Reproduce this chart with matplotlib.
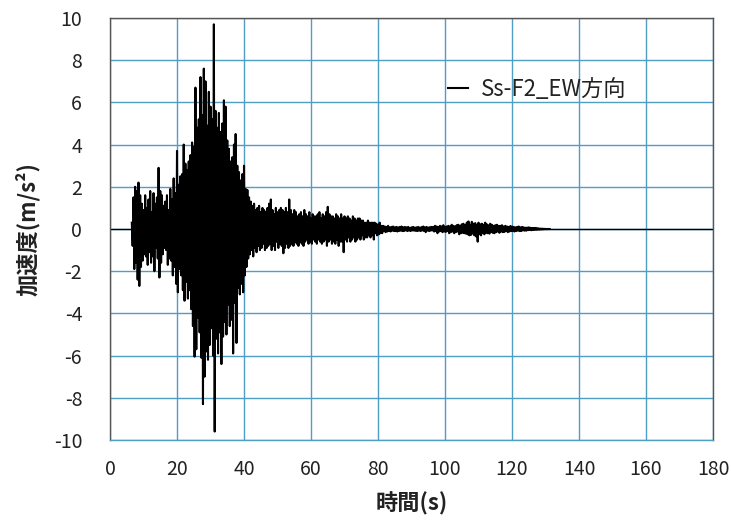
import numpy as np
import matplotlib
matplotlib.use("Agg")
import matplotlib.pyplot as plt

plt.rcParams['font.family'] = ['Noto Sans CJK JP', 'DejaVu Sans']
plt.rcParams['axes.unicode_minus'] = False

# acceleration record (m/s^2), one value every 0.25 s starting at t0
t0 = 6.5
dt = 0.25
acc = [
    0.3, -0.8, 1.5, -1.9, 2.0, -1.6, 1.8, -2.4, 2.2, -2.7, 1.6, -1.8, 1.2, -1.5, 0.9, -1.2, 1.6, -1.3, 1.0, -1.7,
    1.4, -1.1, 1.8, -1.6, 0.8, -1.3, 1.7, -2.0, 1.2, -0.9, 1.5, -1.4, 2.9, -2.3, 1.8, -1.6, 1.6, -1.2, 1.1, -0.9,
    1.3, -1.0, 1.6, -1.7, 0.9, -1.4, 1.9, -1.5, 1.4, -2.2, 2.4, -1.8, 1.7, -2.6, 3.7, -3.0, 2.1, -1.9, 2.5, -2.2,
    2.6, -2.9, 4.0, -3.4, 3.1, -2.5, 2.8, -3.3, 3.2, -2.9, 3.5, -3.8, 4.1, -4.6, 3.9, -6.05, 6.7, -5.7, 4.8, -4.2,
    5.2, -4.9, 7.2, -6.1, 5.4, -8.3, 7.6, -7.0, 7.0, -5.8, 4.9, -6.2, 6.5, -5.5, 5.8, -4.7, 5.2, -6.0, 9.7, -9.6,
    5.6, -5.2, 4.8, -5.9, 5.5, -4.9, 4.6, -6.4, 5.0, -5.1, 6.1, -4.4, 5.8, -5.0, 4.2, -3.6, 3.8, -4.6, 3.2, -4.3,
    3.4, -5.9, 4.0, -3.5, 4.5, -5.4, 3.0, -2.8, 2.7, -3.1, 2.3, -2.6, 2.6, -3.0, 3.0, -2.2, 1.9, -1.8, 1.85, -1.4,
    1.5, -1.2, 1.3, -1.0, 1.1, -1.3, 1.2, -0.9, 0.9, -1.1, 1.0, -0.8, 1.1, -1.0, 0.8, -0.9, 1.0, -0.7, 0.9, -1.0,
    0.8, -0.9, 1.0, -0.8, 1.2, -0.7, 1.4, -1.0, 0.9, -0.8, 0.7, -1.0, 1.0, -0.6, 0.8, -0.9, 0.9, -0.7, 1.0, -0.8,
    0.9, -1.15, 0.8, -0.9, 1.0, -0.7, 0.8, -0.9, 1.4, -0.8, 0.9, -0.7, 0.7, -0.8, 0.9, -0.6, 0.8, -0.7, 0.6, -0.8,
    0.7, -0.6, 0.8, -0.7, 0.6, -0.8, 0.9, -0.6, 0.7, -0.5, 0.6, -0.7, 0.8, -0.6, 0.5, -0.7, 0.7, -0.5, 0.6, -0.6,
    0.6, -0.7, 0.7, -0.5, 0.8, -0.6, 0.5, -0.7, 0.7, -0.6, 0.6, -0.5, 0.8, -0.8, 1.05, -0.6, 0.7, -0.5, 0.6, -0.7,
    0.6, -0.6, 0.5, -0.7, 0.7, -0.5, 0.6, -0.8, 0.5, -0.6, 0.7, -0.6, 0.5, -1.1, 0.6, -0.5, 0.5, -0.6, 0.6, -0.4,
    0.5, -0.6, 0.4, -0.5, 0.6, -0.4, 0.5, -0.6, 0.4, -0.5, 0.5, -0.4, 0.5, -0.5, 0.4, -0.3, 0.4, -0.5, 0.3, -0.4,
    0.3, -0.4, 0.4, -0.3, 0.3, -0.4, 0.3, -0.3, 0.3, -0.5, 0.3, -0.2, 0.25, -0.3, 0.2, -0.25, 0.3, -0.2, 0.15, -0.2,
    0.15, -0.1, 0.12, -0.15, 0.1, -0.12, 0.15, -0.1, 0.08, -0.12, 0.1, -0.08, 0.12, -0.1, 0.08, -0.1, 0.1, -0.12, 0.08, -0.1,
    0.1, -0.08, 0.12, -0.1, 0.08, -0.1, 0.1, -0.07, 0.08, -0.1, 0.1, -0.08, 0.06, -0.1, 0.08, -0.07, 0.1, -0.08, 0.07, -0.09,
    0.08, -0.1, 0.1, -0.08, 0.07, -0.1, 0.09, -0.07, 0.12, -0.1, 0.08, -0.15, 0.1, -0.08, 0.07, -0.1, 0.09, -0.08, 0.1, -0.07,
    0.1, -0.12, 0.15, -0.1, 0.12, -0.2, 0.1, -0.12, 0.15, -0.1, 0.12, -0.15, 0.18, -0.12, 0.1, -0.14, 0.12, -0.1, 0.15, -0.2,
    0.12, -0.15, 0.2, -0.12, 0.15, -0.2, 0.12, -0.15, 0.18, -0.12, 0.2, -0.25, 0.15, -0.2, 0.22, -0.18, 0.25, -0.2, 0.18, -0.22,
    0.3, -0.25, 0.36, -0.3, 0.2, -0.28, 0.34, -0.22, 0.25, -0.3, 0.28, -0.35, 0.2, -0.6, 0.3, -0.25, 0.22, -0.3, 0.25, -0.2,
    0.2, -0.25, 0.3, -0.18, 0.22, -0.2, 0.18, -0.22, 0.25, -0.15, 0.2, -0.18, 0.15, -0.2, 0.18, -0.15, 0.2, -0.12, 0.15, -0.18,
    0.15, -0.12, 0.18, -0.15, 0.12, -0.14, 0.15, -0.1, 0.12, -0.15, 0.1, -0.12, 0.14, -0.1, 0.12, -0.1, 0.1, -0.12, 0.08, -0.1,
    0.1, -0.08, 0.12, -0.1, 0.08, -0.1, 0.1, -0.07, 0.08, -0.08, 0.06, -0.08, 0.07, -0.06, 0.08, -0.05, 0.06, -0.06, 0.05, -0.05,
    0.05, -0.04, 0.05, -0.04, 0.04, -0.03, 0.03, -0.03, 0.02, -0.02, 0.02, -0.02, 0.01, -0.01, 0.01, -0.01, 0, 0, 0, 0,
]
t = t0 + dt * np.arange(len(acc))

xticks = [0, 20, 40, 60, 80, 100, 120, 140, 160, 180]
yticks = [-10, -8, -6, -4, -2, 0, 2, 4, 6, 8, 10]
series_name = 'Ss-F2_EW方向'

grid_col = '#4f9ec4'
txt_col = '#222222'

fig = plt.figure(figsize=(7.31, 5.26), dpi=100)
ax = fig.add_axes([0.1505, 0.1635, 0.8249, 0.8023])

ax.plot(t, acc, color='black', lw=1.5, label=series_name, zorder=3)
ax.axhline(0, color='black', lw=1.0, zorder=2)

ax.set_xlim(0, 180)
ax.set_ylim(-10, 10)
ax.set_xticks(xticks)
ax.set_yticks(yticks)
ax.grid(True, color=grid_col, lw=1.0)
ax.set_axisbelow(True)
ax.tick_params(length=0, labelsize=14, colors=txt_col)
ax.tick_params(axis='x', pad=14)
ax.tick_params(axis='y', pad=20)
for s in ax.spines.values():
    s.set_color('#555555')
    s.set_linewidth(1.0)
ax.spines['bottom'].set_color(grid_col)

ax.set_xlabel('時間(s)', fontsize=16, fontweight='bold', color=txt_col, labelpad=8)
ax.set_ylabel('加速度(m/s²)', fontsize=16, fontweight='bold', color=txt_col, labelpad=10)

leg = ax.legend(loc='upper left', bbox_to_anchor=(0.527, 0.905), frameon=False,
                handlelength=0.9, handletextpad=0.6, fontsize=16)
for txt in leg.get_texts():
    txt.set_color(txt_col)

fig.savefig('out.png', dpi=100)
